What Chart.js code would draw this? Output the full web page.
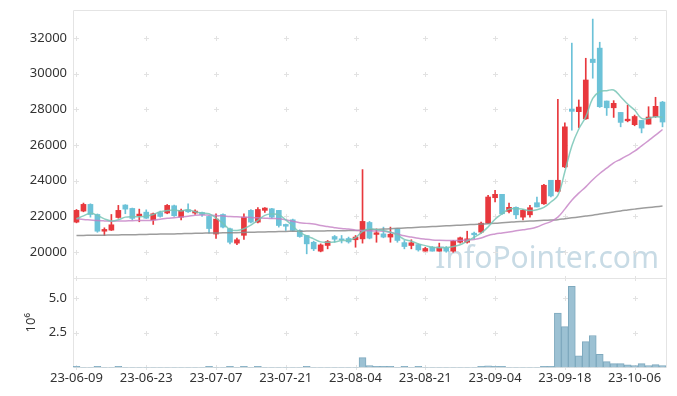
<!DOCTYPE html>
<html>
<head>
<meta charset="utf-8">
<script src="https://cdn.jsdelivr.net/npm/chart.js@4.4.0/dist/chart.umd.min.js"></script>
<style>
html, body { margin: 0; padding: 0; background: #fff; }
#wrap { width: 677px; height: 396px; }
</style>
</head>
<body>
<div id="wrap"><canvas id="mainChart" width="677" height="396"></canvas></div>
<script>
// trading days, 23-06-09 .. 23-10-13
var dates = [
    "23-06-09", "23-06-12", "23-06-13", "23-06-14", "23-06-15", "23-06-16", "23-06-19", "23-06-20", "23-06-21", "23-06-22",
    "23-06-23", "23-06-26", "23-06-27", "23-06-28", "23-06-29", "23-06-30", "23-07-03", "23-07-04", "23-07-05", "23-07-06",
    "23-07-07", "23-07-10", "23-07-11", "23-07-12", "23-07-13", "23-07-14", "23-07-17", "23-07-18", "23-07-19", "23-07-20",
    "23-07-21", "23-07-24", "23-07-25", "23-07-26", "23-07-27", "23-07-28", "23-07-31", "23-08-01", "23-08-02", "23-08-03",
    "23-08-04", "23-08-07", "23-08-08", "23-08-09", "23-08-10", "23-08-11", "23-08-14", "23-08-16", "23-08-17", "23-08-18",
    "23-08-21", "23-08-22", "23-08-23", "23-08-24", "23-08-25", "23-08-28", "23-08-29", "23-08-30", "23-08-31", "23-09-01",
    "23-09-04", "23-09-05", "23-09-06", "23-09-07", "23-09-08", "23-09-11", "23-09-12", "23-09-13", "23-09-14", "23-09-15",
    "23-09-18", "23-09-19", "23-09-20", "23-09-21", "23-09-22", "23-09-25", "23-09-26", "23-09-27", "23-10-04", "23-10-05",
    "23-10-06", "23-10-10", "23-10-11", "23-10-12", "23-10-13"
];

var opens = [
    21670, 22290, 22665, 22100, 21160, 21220, 21930, 22630, 22440, 22030,
    22230, 21800, 22210, 22180, 22590, 21950, 22360, 22180, 22210, 21990,
    21000, 22100, 21300, 20490, 20930, 22330, 21670, 22330, 22420, 22330,
    21540, 21800, 21200, 20920, 20540, 20040, 20360, 20860, 20730, 20750,
    20680, 20730, 21650, 20980, 21010, 20830, 21290, 20520, 20360, 20410,
    20040, 20260, 20040, 20220, 20040, 20540, 20540, 21050, 21110, 21610,
    23040, 23230, 22270, 22500, 21950, 22080, 22760, 22700, 24020, 23400,
    24770, 28020, 27870, 27470, 30820, 31440, 28470, 28090, 27830, 27360,
    27140, 27380, 27170, 27590, 28410
];
var highs = [
    22380, 22740, 22700, 22130, 21350, 22100, 22610, 22650, 22460, 22400,
    22360, 22180, 22290, 22660, 22630, 22400, 22700, 22360, 22230, 22030,
    22140, 22140, 21330, 20770, 22140, 22370, 22480, 22480, 22440, 22330,
    21560, 21840, 21240, 20920, 20600, 20450, 20640, 20920, 20920, 20830,
    20920, 24620, 21710, 21290, 21390, 21390, 21290, 20640, 20680, 20450,
    20260, 20300, 20490, 20300, 20640, 20830, 21160, 21110, 21670, 23170,
    23450, 23230, 22740, 22530, 22370, 22610, 23080, 23790, 24020, 28560,
    27250, 31720, 28530, 30870, 33070, 31770, 28470, 28490, 27830, 28240,
    27680, 27380, 28150, 28680, 28450
];
var lows = [
    21630, 22250, 21950, 21100, 20920, 21200, 21890, 22140, 21800, 21690,
    21880, 21540, 21950, 22140, 21990, 21800, 22210, 22100, 21990, 21050,
    20760, 21350, 20450, 20410, 20700, 21630, 21630, 22210, 21890, 21390,
    21200, 21160, 20820, 19890, 20070, 20000, 20170, 20540, 20500, 20490,
    20260, 20490, 20730, 20540, 20790, 20540, 20540, 20170, 20170, 20040,
    20040, 20040, 20040, 19980, 19980, 20490, 20490, 20730, 21050, 21580,
    22800, 22100, 22180, 21860, 21800, 21950, 22520, 22670, 23080, 23360,
    24730, 26830, 26980, 27440, 29750, 28110, 27660, 27550, 27020, 27300,
    27080, 26680, 27170, 27550, 27020
];
var closes = [
    22330, 22665, 22100, 21160, 21260, 21520, 22330, 22400, 21880, 22120,
    21890, 22140, 21990, 22610, 22030, 22330, 22250, 22290, 22100, 21310,
    21840, 21390, 20540, 20680, 21950, 21670, 22380, 22460, 21950, 21480,
    21440, 21200, 20860, 20450, 20170, 20390, 20580, 20710, 20680, 20560,
    20830, 21710, 20770, 21070, 20830, 20990, 20640, 20300, 20510, 20110,
    20190, 20040, 20220, 20040, 20600, 20790, 20730, 20960, 21610, 23080,
    23230, 22140, 22500, 22080, 22330, 22480, 22520, 23740, 23140, 24020,
    27020, 27890, 28130, 29650, 30630, 28150, 28090, 28340, 27270, 27450,
    27600, 26950, 27570, 28170, 27290
];

// volume, millions of shares
var volumes = [
    0.07, 0.01, 0.01, 0.07, 0.01, 0.01, 0.07, 0.01, 0.01, 0.01,
    0.01, 0.01, 0.01, 0.01, 0.01, 0.01, 0.01, 0.01, 0.01, 0.07,
    0.01, 0.01, 0.07, 0.01, 0.07, 0.01, 0.07, 0.01, 0.01, 0.01,
    0.01, 0.01, 0.01, 0.07, 0.01, 0.01, 0.01, 0.01, 0.01, 0.01,
    0.01, 0.70, 0.13, 0.07, 0.07, 0.07, 0.01, 0.07, 0.01, 0.07,
    0.01, 0.01, 0.01, 0.01, 0.01, 0.01, 0.01, 0.01, 0.07, 0.12,
    0.07, 0.07, 0.01, 0.01, 0.01, 0.01, 0.01, 0.07, 0.07, 3.90,
    2.93, 5.82, 0.84, 1.85, 2.29, 0.94, 0.41, 0.27, 0.27, 0.19,
    0.13, 0.27, 0.13, 0.20, 0.13
];

var ma5 = [
    21860, 22020, 22170, 22050, 21850, 21740, 21800, 21950, 21980, 21970,
    22000, 22100, 22250, 22320, 22350, 22300, 22360, 22250, 22180, 22140,
    21900, 21600, 21250, 21200, 21300, 21500, 21770, 22050, 22120, 22080,
    21800, 21450, 21100, 20900, 20730, 20560, 20540, 20560, 20640, 20650,
    20800, 21150, 21300, 21250, 21200, 21100, 20950, 20700, 20600, 20450,
    20350, 20260, 20230, 20240, 20300, 20400, 20600, 20820, 21050, 21400,
    21830, 22140, 22400, 22430, 22390, 22320, 22370, 22500, 22800, 23170,
    24500, 25950, 26900, 27580, 28620, 28990, 29050, 29090, 28710, 28300,
    27960, 27490, 27500, 27590, 27550
];
var ma20 = [
    21860, 21820, 21790, 21760, 21740, 21725, 21730, 21740, 21750, 21760,
    21765, 21780, 21830, 21890, 21920, 21960, 22000, 22060, 22070, 22060,
    22045, 22020, 21990, 21970, 21950, 21930, 21910, 21890, 21870, 21860,
    21800, 21720, 21640, 21600, 21560, 21480, 21420, 21360, 21310, 21280,
    21220, 21190, 21180, 21170, 21160, 21100, 21000, 20900, 20830, 20760,
    20710, 20670, 20650, 20640, 20640, 20640, 20660, 20700, 20780, 20920,
    21000, 21060, 21120, 21180, 21240, 21300, 21400, 21560, 21700, 21950,
    22400, 22900, 23300, 23650, 24050, 24400, 24700, 25000, 25200, 25420,
    25650, 25950, 26250, 26550, 26870
];
var ma60 = [
    20920, 20925, 20930, 20935, 20940, 20945, 20950, 20960, 20965, 20970,
    20980, 20990, 21000, 21005, 21010, 21020, 21030, 21040, 21050, 21055,
    21060, 21070, 21075, 21080, 21090, 21100, 21110, 21120, 21130, 21140,
    21150, 21155, 21160, 21165, 21170, 21175, 21180, 21185, 21190, 21195,
    21200, 21220, 21240, 21260, 21280, 21300, 21320, 21340, 21360, 21380,
    21400, 21420, 21440, 21460, 21480, 21500, 21520, 21540, 21560, 21580,
    21600, 21630, 21660, 21690, 21710, 21730, 21750, 21770, 21790, 21810,
    21860, 21910, 21960, 22010, 22060, 22120, 22180, 22240, 22300, 22350,
    22400, 22450, 22490, 22530, 22570
];

var priceTicks = [20000, 22000, 24000, 26000, 28000, 30000, 32000];
var volTicks = [2.5, 5.0];

var upColor = '#e8383d';
var downColor = '#6cc2d8';
var candleColors = closes.map(function (c, i) { return c > opens[i] ? upColor : downColor; });

var font = "'Noto Sans', 'DejaVu Sans', sans-serif";

// gridline crosses, panel frame and watermark
var decor = {
    id: 'decor',
    beforeDatasetsDraw: function (chart) {
        var ctx = chart.ctx, a = chart.chartArea;
        var x = chart.scales.x, y = chart.scales.y, yv = chart.scales.yv;
        ctx.save();

        ctx.font = "30px " + font;
        ctx.fillStyle = '#c8dbe5';
        ctx.textAlign = 'right';
        ctx.textBaseline = 'alphabetic';
        ctx.fillText('InfoPointer.com', a.right - 7, y.bottom - 10);

        ctx.strokeStyle = '#e2e2e2';
        ctx.lineWidth = 1;
        var xs = [];
        dates.forEach(function (d, i) { if (i % 10 === 0) xs.push(Math.round(x.getPixelForValue(i)) + 0.5); });
        var ys = priceTicks.map(function (v) { return y.getPixelForValue(v); })
            .concat(volTicks.map(function (v) { return yv.getPixelForValue(v); }))
            .concat([y.bottom, yv.bottom]);
        ctx.beginPath();
        xs.forEach(function (px) {
            ys.forEach(function (py) {
                py = Math.round(py) + 0.5;
                ctx.moveTo(px - 2.5, py); ctx.lineTo(px + 2.5, py);
                ctx.moveTo(px, py - 2.5); ctx.lineTo(px, py + 2.5);
            });
        });
        ctx.stroke();

        ctx.strokeStyle = '#e4e4e4';
        ctx.beginPath();
        ctx.rect(Math.round(a.left) + 0.5, Math.round(a.top) + 0.5, Math.round(a.width), Math.round(a.height));
        var dy = Math.round(y.bottom) + 0.5;
        ctx.moveTo(a.left, dy); ctx.lineTo(a.right, dy);
        ctx.stroke();
        ctx.restore();
    }
};

function fixWidth(s) {
    s.width = 73;
    s.paddingTop = 0;
    s.paddingBottom = 0;
}

var ctx = document.getElementById("mainChart").getContext("2d");
var myChart = new Chart(ctx, {
    data: {
        labels: dates,
        datasets: [
            {
                type: 'line', data: ma5, yAxisID: 'y', order: 0,
                borderColor: 'rgba(120, 198, 182, 0.85)', borderWidth: 1.5,
                pointRadius: 0, tension: 0.4,
            },
            {
                type: 'line', data: ma20, yAxisID: 'y', order: 0,
                borderColor: 'rgba(196, 128, 196, 0.8)', borderWidth: 1.5,
                pointRadius: 0, tension: 0.4,
            },
            {
                type: 'line', data: ma60, yAxisID: 'y', order: 0,
                borderColor: 'rgba(140, 140, 140, 0.85)', borderWidth: 1.5,
                pointRadius: 0, tension: 0.4,
            },
            {
                type: 'bar', yAxisID: 'y', order: 2, grouped: false,
                data: lows.map(function (l, i) { return [l, highs[i]]; }),
                backgroundColor: candleColors, barThickness: 1,
            },
            {
                type: 'bar', yAxisID: 'y', order: 1, grouped: false,
                data: opens.map(function (o, i) { return [o, closes[i]]; }),
                backgroundColor: candleColors, barThickness: 5,
            },
            {
                type: 'bar', yAxisID: 'yv', order: 1, grouped: false,
                data: volumes,
                backgroundColor: '#9cc1d3', borderColor: '#7ea9be', borderWidth: 1,
                barPercentage: 1, categoryPercentage: 1,
            },
        ],
    },
    options: {
        responsive: false,
        animation: false,
        devicePixelRatio: 1,
        layout: { padding: { top: 10, right: 11, bottom: 7, left: 0 } },
        plugins: {
            legend: { display: false },
            tooltip: { enabled: false },
        },
        scales: {
            x: {
                type: 'category',
                offset: true,
                grid: { display: false, drawTicks: false },
                border: { display: false },
                ticks: {
                    autoSkip: false, maxRotation: 0, padding: 3, color: '#333',
                    font: { family: font, size: 13 },
                    callback: function (v, i) { return i % 10 === 0 ? dates[i] : ''; },
                },
            },
            yv: {
                position: 'left', stack: 'panels', stackWeight: 1,
                min: 0, max: 6.42,
                grid: { display: false, drawTicks: false },
                border: { display: false },
                afterBuildTicks: function (s) { s.ticks = volTicks.map(function (v) { return { value: v }; }); },
                afterFit: fixWidth,
                ticks: {
                    padding: 6, color: '#333', font: { family: font, size: 13 },
                    callback: function (v) { return v.toFixed(1); },
                },
                title: {
                    display: true, text: '10\u2076', color: '#333',
                    font: { family: font, size: 13 }, padding: { top: 23, bottom: 0 },
                },
            },
            y: {
                position: 'left', stack: 'panels', stackWeight: 3,
                min: 18530, max: 33580,
                grid: { display: false, drawTicks: false },
                border: { display: false },
                afterBuildTicks: function (s) { s.ticks = priceTicks.map(function (v) { return { value: v }; }); },
                afterFit: fixWidth,
                ticks: {
                    padding: 6, color: '#333', font: { family: font, size: 13 },
                    callback: function (v) { return String(v); },
                },
            },
        },
    },
    plugins: [decor],
});
</script>
</body>
</html>
